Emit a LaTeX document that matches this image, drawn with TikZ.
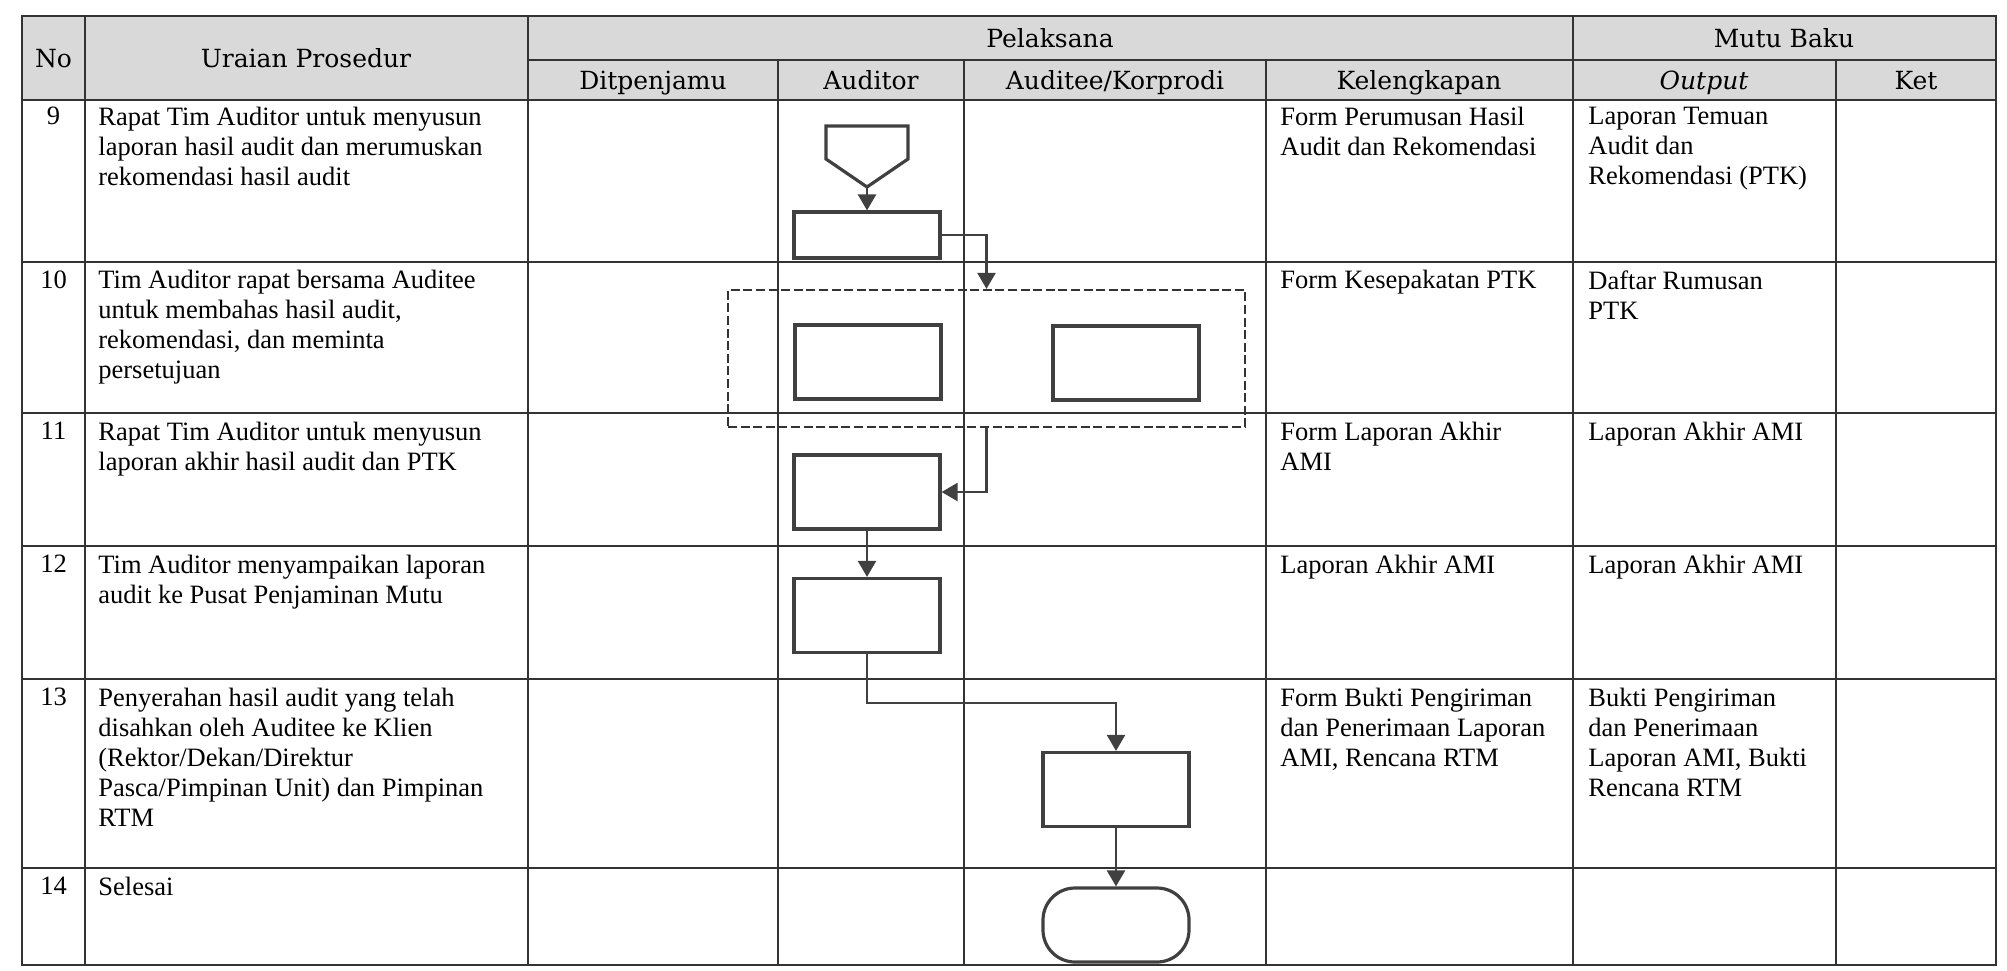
\documentclass[tikz,border=0pt]{standalone}
\usepackage{fontspec}
\setmainfont{Liberation Serif}
\newfontfamily\headfont{DejaVu Serif}
\usetikzlibrary{arrows.meta}

\begin{document}
\begin{tikzpicture}[x=0.5pt, y=-0.5pt,
    blok/.style={draw=black!75, line width=1.6pt, minimum width=73pt, minimum height=37pt, inner sep=0pt},
    grup/.style={draw=black!80, line width=1.1pt, dash pattern=on 4.5pt off 1.8pt, minimum width=258.5pt, minimum height=68.5pt, inner sep=0pt},
    arr/.style={-{Triangle[length=8pt, width=9pt]}, draw=black!75, line width=1.2pt},
    garis/.style={draw=black!80, line width=0.9pt},
    judul/.style={font=\headfont\fontsize{12.5pt}{14pt}\selectfont, inner sep=0pt, text height=9pt, text depth=0pt},
    isi/.style={anchor=north west, align=left, inner sep=0pt, font=\fontsize{13.25pt}{15pt}\selectfont},
    nomor/.style={anchor=north, inner sep=0pt, font=\fontsize{13.25pt}{15pt}\selectfont}]
    \useasboundingbox (0,0) rectangle (2007,970);
    \fill[gray!30] (22,16) rectangle (1996,100);
    \draw[garis] (22,16) rectangle (1996,965);
    \draw[garis] (528,60) -- (1996,60);
    \draw[garis] (22,100) -- (1996,100) (22,262) -- (1996,262) (22,413) -- (1996,413)
        (22,546) -- (1996,546) (22,679) -- (1996,679) (22,868) -- (1996,868);
    \draw[garis] (85,16) -- (85,965) (528,16) -- (528,965) (1573,16) -- (1573,965);
    \draw[garis] (778,60) -- (778,965) (964,60) -- (964,965) (1266,60) -- (1266,965) (1836,60) -- (1836,965);

    \node[judul] (hno) at (53.5,58) {No};
    \node[judul] (hur) at (306,58) {Uraian Prosedur};
    \node[judul] (hpel) at (1050,38) {Pelaksana};
    \node[judul] (hmutu) at (1784,38) {Mutu Baku};
    \node[judul] (hdit) at (653,80) {Ditpenjamu};
    \node[judul] (haud) at (871,80) {Auditor};
    \node[judul] (hkor) at (1115,80) {Auditee/Korprodi};
    \node[judul] (hkel) at (1419,80) {Kelengkapan};
    \node[judul] (hout) at (1704,80) {\itshape Output};
    \node[judul] (hket) at (1916,80) {Ket};

    \node[nomor] (n9) at (53.5,107) {9};
    \node[isi] (u9) at (98,107) {Rapat Tim Auditor untuk menyusun\\laporan hasil audit dan merumuskan\\rekomendasi hasil audit};
    \node[isi] (k9) at (1280,107) {Form Perumusan Hasil\\Audit dan Rekomendasi};
    \node[isi] (o9) at (1588,107) {Laporan Temuan\\Audit dan\\Rekomendasi (PTK)};

    \node[nomor] (n10) at (53.5,270) {10};
    \node[isi] (u10) at (98,270) {Tim Auditor rapat bersama Auditee\\untuk membahas hasil audit,\\rekomendasi, dan meminta\\persetujuan};
    \node[isi] (k10) at (1280,270) {Form Kesepakatan PTK};
    \node[isi] (o10) at (1588,270) {Daftar Rumusan\\PTK};

    \node[nomor] (n11) at (53.5,422) {11};
    \node[isi] (u11) at (98,422) {Rapat Tim Auditor untuk menyusun\\laporan akhir hasil audit dan PTK};
    \node[isi] (k11) at (1280,422) {Form Laporan Akhir\\AMI};
    \node[isi] (o11) at (1588,422) {Laporan Akhir AMI};

    \node[nomor] (n12) at (53.5,555) {12};
    \node[isi] (u12) at (98,555) {Tim Auditor menyampaikan laporan\\audit ke Pusat Penjaminan Mutu};
    \node[isi] (k12) at (1280,555) {Laporan Akhir AMI};
    \node[isi] (o12) at (1588,555) {Laporan Akhir AMI};

    \node[nomor] (n13) at (53.5,688) {13};
    \node[isi] (u13) at (98,688) {Penyerahan hasil audit yang telah\\disahkan oleh Auditee ke Klien\\(Rektor/Dekan/Direktur\\Pasca/Pimpinan Unit) dan Pimpinan\\RTM};
    \node[isi] (k13) at (1280,688) {Form Bukti Pengiriman\\dan Penerimaan Laporan\\AMI, Rencana RTM};
    \node[isi] (o13) at (1588,688) {Bukti Pengiriman\\dan Penerimaan\\Laporan AMI, Bukti\\Rencana RTM};

    \node[nomor] (n14) at (53.5,877) {14};
    \node[isi] (u14) at (98,877) {Selesai};

    \draw[blok] (826,126) -- (908,126) -- (908,159) -- (867,187) coordinate (mulai) -- (826,159) -- cycle;
    \node[blok, minimum height=23pt] (r1) at (867,235) {};
    \node[grup] (grp) at (986.5,358.5) {};
    \node[blok] (r2) at (868,362) {};
    \node[blok] (r3) at (1126,363) {};
    \node[blok] (r4) at (867,492) {};
    \node[blok] (r5) at (867,615.5) {};
    \node[blok] (r6) at (1116,789.5) {};
    \node[blok, rounded corners=16pt] (sel) at (1116,925) {};

    \draw[arr] (mulai) -- (r1);
    \draw[arr] (r1) -| (grp);
    \draw[arr] (grp) |- (r4);
    \draw[arr] (r4) -- (r5);
    \draw[arr] (r5.south) -- ++(0,49) -| (r6);
    \draw[arr] (r6) -- (sel);
\end{tikzpicture}
\end{document}
